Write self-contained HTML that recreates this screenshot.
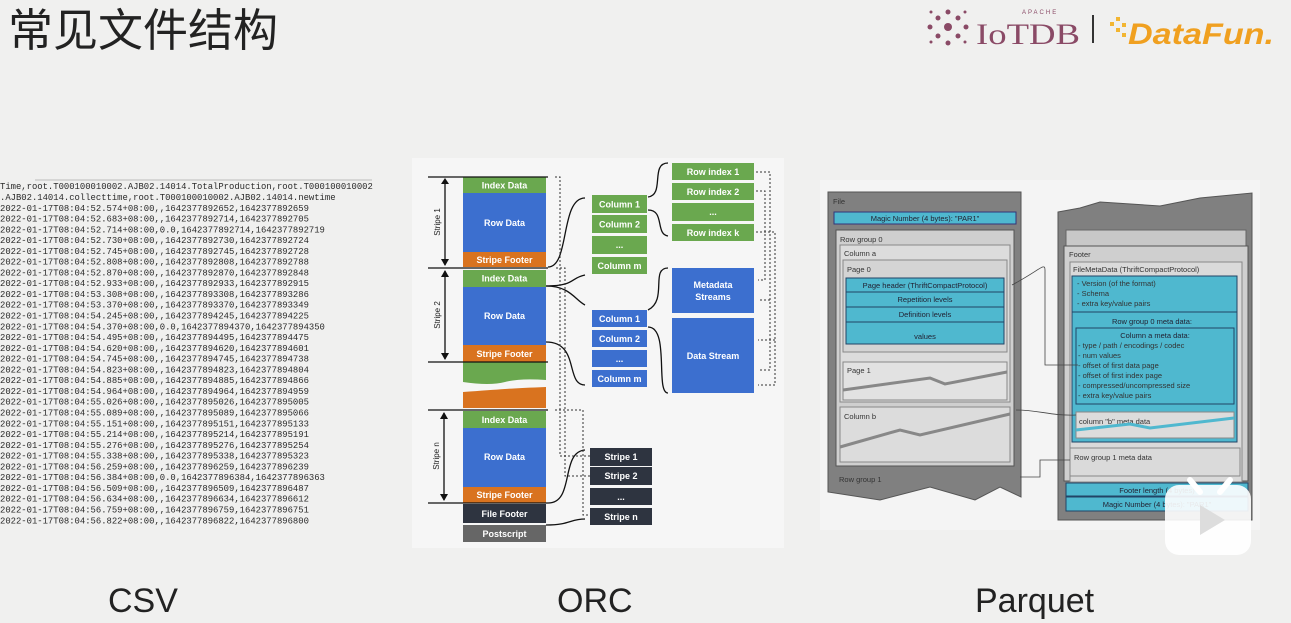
<!DOCTYPE html>
<html><head><meta charset="utf-8"><style>
html,body{margin:0;padding:0;background:#f0f0ef;}
svg{display:block}
.m{font-family:"Liberation Mono",monospace;font-size:8.9px;fill:#2a2a2a}
.o{font-family:"Liberation Sans",sans-serif;font-weight:bold;font-size:9px;fill:#fff;text-anchor:middle}
.p{font-family:"Liberation Sans",sans-serif;font-size:7.5px;fill:#333}
.pc{font-family:"Liberation Sans",sans-serif;font-size:7.5px;fill:#223;text-anchor:middle}
</style></head><body>
<svg width="1291" height="623" viewBox="0 0 1291 623" xmlns="http://www.w3.org/2000/svg">
<rect width="1291" height="623" fill="#f0f0ef"/>
<text x="8" y="46" font-family="'Liberation Sans','Noto Sans CJK SC',sans-serif" font-size="45" fill="#222">常见文件结构</text>
<!-- logos -->
<g fill="#8a4a66">
<circle cx="948" cy="27" r="4"/><circle cx="938" cy="18" r="2.5"/><circle cx="958" cy="18" r="2.5"/><circle cx="938" cy="36" r="2.5"/><circle cx="958" cy="36" r="2.5"/><circle cx="930" cy="27" r="2.5"/><circle cx="966" cy="27" r="2.5"/><circle cx="948" cy="12" r="2.5"/><circle cx="948" cy="43" r="2.5"/><circle cx="931" cy="12" r="1.5"/><circle cx="965" cy="12" r="1.5"/><circle cx="931" cy="42" r="1.5"/><circle cx="965" cy="42" r="1.5"/>
</g>
<text x="976" y="44" font-family="'Liberation Serif',serif" font-size="30" fill="#8a4a66" textLength="104" lengthAdjust="spacingAndGlyphs">IoTDB</text>
<text x="1022" y="14" font-family="'Liberation Sans',sans-serif" font-size="6" fill="#8a4a66" letter-spacing="2">APACHE</text>
<rect x="1092" y="15" width="2" height="28" fill="#333"/>
<g fill="#f2b531"><rect x="1110" y="22" width="4" height="4"/><rect x="1116" y="17" width="4" height="4"/><rect x="1116" y="28" width="4" height="4"/><rect x="1122" y="23" width="4" height="4"/><rect x="1122" y="33" width="4" height="4"/></g>
<text x="1128" y="44" font-family="'Liberation Sans',sans-serif" font-style="italic" font-weight="bold" font-size="30" fill="#f0a020" textLength="146" lengthAdjust="spacingAndGlyphs">DataFun.</text>

<!-- CSV -->
<g class="m">
<line x1="35" y1="180" x2="372" y2="180" stroke="#bbb"/>
<text x="0" y="189">Time,root.T000100010002.AJB02.14014.TotalProduction,root.T000100010002</text>
<text x="0" y="200">.AJB02.14014.collecttime,root.T000100010002.AJB02.14014.newtime</text>
<text x="0" y="211">2022-01-17T08:04:52.574+08:00,,1642377892652,1642377892659</text>
<text x="0" y="221.5">2022-01-17T08:04:52.683+08:00,,1642377892714,1642377892705</text>
<text x="0" y="232.3">2022-01-17T08:04:52.714+08:00,0.0,1642377892714,1642377892719</text>
<text x="0" y="243">2022-01-17T08:04:52.730+08:00,,1642377892730,1642377892724</text>
<text x="0" y="253.8">2022-01-17T08:04:52.745+08:00,,1642377892745,1642377892728</text>
<text x="0" y="264.6">2022-01-17T08:04:52.808+08:00,,1642377892808,1642377892788</text>
<text x="0" y="275.4">2022-01-17T08:04:52.870+08:00,,1642377892870,1642377892848</text>
<text x="0" y="286.2">2022-01-17T08:04:52.933+08:00,,1642377892933,1642377892915</text>
<text x="0" y="297">2022-01-17T08:04:53.308+08:00,,1642377893308,1642377893286</text>
<text x="0" y="307.7">2022-01-17T08:04:53.370+08:00,,1642377893370,1642377893349</text>
<text x="0" y="318.5">2022-01-17T08:04:54.245+08:00,,1642377894245,1642377894225</text>
<text x="0" y="329.3">2022-01-17T08:04:54.370+08:00,0.0,1642377894370,1642377894350</text>
<text x="0" y="340">2022-01-17T08:04:54.495+08:00,,1642377894495,1642377894475</text>
<text x="0" y="350.8">2022-01-17T08:04:54.620+08:00,,1642377894620,1642377894601</text>
<text x="0" y="361.6">2022-01-17T08:04:54.745+08:00,,1642377894745,1642377894738</text>
<text x="0" y="372.4">2022-01-17T08:04:54.823+08:00,,1642377894823,1642377894804</text>
<text x="0" y="383.2">2022-01-17T08:04:54.885+08:00,,1642377894885,1642377894866</text>
<text x="0" y="394">2022-01-17T08:04:54.964+08:00,,1642377894964,1642377894959</text>
<text x="0" y="404.7">2022-01-17T08:04:55.026+08:00,,1642377895026,1642377895005</text>
<text x="0" y="415.5">2022-01-17T08:04:55.089+08:00,,1642377895089,1642377895066</text>
<text x="0" y="426.3">2022-01-17T08:04:55.151+08:00,,1642377895151,1642377895133</text>
<text x="0" y="437">2022-01-17T08:04:55.214+08:00,,1642377895214,1642377895191</text>
<text x="0" y="447.8">2022-01-17T08:04:55.276+08:00,,1642377895276,1642377895254</text>
<text x="0" y="458.6">2022-01-17T08:04:55.338+08:00,,1642377895338,1642377895323</text>
<text x="0" y="469.4">2022-01-17T08:04:56.259+08:00,,1642377896259,1642377896239</text>
<text x="0" y="480.2">2022-01-17T08:04:56.384+08:00,0.0,1642377896384,1642377896363</text>
<text x="0" y="491">2022-01-17T08:04:56.509+08:00,,1642377896509,1642377896487</text>
<text x="0" y="501.7">2022-01-17T08:04:56.634+08:00,,1642377896634,1642377896612</text>
<text x="0" y="512.5">2022-01-17T08:04:56.759+08:00,,1642377896759,1642377896751</text>
<text x="0" y="523.3">2022-01-17T08:04:56.822+08:00,,1642377896822,1642377896800</text>
</g>

<!-- ORC -->
<rect x="412" y="158" width="372" height="390" fill="#f6f6f6"/>
<g>
<rect x="463" y="177" width="83" height="16" fill="#6aa84f"/><text class="o" x="504.5" y="188.5">Index Data</text>
<rect x="463" y="193" width="83" height="59" fill="#3c6fcf"/><text class="o" x="504.5" y="226">Row Data</text>
<rect x="463" y="252" width="83" height="15" fill="#d9731f"/><text class="o" x="504.5" y="263">Stripe Footer</text>
<rect x="463" y="270" width="83" height="17" fill="#6aa84f"/><text class="o" x="504.5" y="281.5">Index Data</text>
<rect x="463" y="287" width="83" height="58" fill="#3c6fcf"/><text class="o" x="504.5" y="319">Row Data</text>
<rect x="463" y="345" width="83" height="17" fill="#d9731f"/><text class="o" x="504.5" y="357">Stripe Footer</text>
<path d="M463 362H546V380Q520 378 505 382T463 382Z" fill="#6aa84f"/>
<path d="M463 392Q490 390 505 389T546 387V408H463Z" fill="#d9731f"/>
<rect x="463" y="411" width="83" height="17" fill="#6aa84f"/><text class="o" x="504.5" y="423">Index Data</text>
<rect x="463" y="428" width="83" height="59" fill="#3c6fcf"/><text class="o" x="504.5" y="460">Row Data</text>
<rect x="463" y="487" width="83" height="16" fill="#d9731f"/><text class="o" x="504.5" y="498">Stripe Footer</text>
<rect x="463" y="504" width="83" height="19" fill="#2e3440"/><text class="o" x="504.5" y="517">File Footer</text>
<rect x="463" y="525" width="83" height="17" fill="#666"/><text class="o" x="504.5" y="537">Postscript</text>
</g>
<g stroke="#111" stroke-width="1.3">
<line x1="428" y1="177" x2="548" y2="177"/><line x1="428" y1="268" x2="548" y2="268"/><line x1="428" y1="362" x2="548" y2="362"/>
<line x1="428" y1="410" x2="548" y2="410"/><line x1="428" y1="503" x2="548" y2="503"/>
<line x1="445" y1="180" x2="445" y2="265"/><line x1="445" y1="271" x2="445" y2="359"/><line x1="444" y1="413" x2="444" y2="500"/>
</g>
<g fill="#111"><path d="M441 184L445 178 449 184Z"/><path d="M441 259L445 266 449 259Z"/><path d="M441 277L445 270 449 277Z"/><path d="M441 353L445 360 449 353Z"/><path d="M440 419L444 412 448 419Z"/><path d="M440 494L444 501 448 494Z"/></g>
<g font-family="Liberation Sans,sans-serif" font-size="8" fill="#222" text-anchor="middle">
<text transform="translate(440 222) rotate(-90)">Stripe 1</text>
<text transform="translate(440 315) rotate(-90)">Stripe 2</text>
<text transform="translate(439 456) rotate(-90)">Stripe n</text>
</g>
<g>
<rect x="592" y="195" width="55" height="18" fill="#6aa84f"/><text class="o" x="619.5" y="207.5">Column 1</text>
<rect x="592" y="215" width="55" height="18" fill="#6aa84f"/><text class="o" x="619.5" y="227.5">Column 2</text>
<rect x="592" y="236" width="55" height="18" fill="#6aa84f"/><text class="o" x="619.5" y="248">...</text>
<rect x="592" y="257" width="55" height="17" fill="#6aa84f"/><text class="o" x="619.5" y="269">Column m</text>
<rect x="592" y="310" width="55" height="17" fill="#3c6fcf"/><text class="o" x="619.5" y="322">Column 1</text>
<rect x="592" y="330" width="55" height="17" fill="#3c6fcf"/><text class="o" x="619.5" y="342">Column 2</text>
<rect x="592" y="350" width="55" height="17" fill="#3c6fcf"/><text class="o" x="619.5" y="362">...</text>
<rect x="592" y="370" width="55" height="17" fill="#3c6fcf"/><text class="o" x="619.5" y="382">Column m</text>
<rect x="672" y="163" width="82" height="17" fill="#6aa84f"/><text class="o" x="713" y="175">Row index 1</text>
<rect x="672" y="183" width="82" height="17" fill="#6aa84f"/><text class="o" x="713" y="195">Row index 2</text>
<rect x="672" y="203" width="82" height="18" fill="#6aa84f"/><text class="o" x="713" y="215">...</text>
<rect x="672" y="224" width="82" height="17" fill="#6aa84f"/><text class="o" x="713" y="236">Row index k</text>
<rect x="672" y="268" width="82" height="45" fill="#3c6fcf"/><text class="o" x="713" y="288">Metadata</text><text class="o" x="713" y="300">Streams</text>
<rect x="672" y="318" width="82" height="75" fill="#3c6fcf"/><text class="o" x="713" y="359">Data Stream</text>
<rect x="590" y="448" width="62" height="18" fill="#2e3440"/><text class="o" x="621" y="460">Stripe 1</text>
<rect x="590" y="467" width="62" height="18" fill="#2e3440"/><text class="o" x="621" y="479">Stripe 2</text>
<rect x="590" y="488" width="62" height="17" fill="#2e3440"/><text class="o" x="621" y="500">...</text>
<rect x="590" y="508" width="62" height="17" fill="#2e3440"/><text class="o" x="621" y="520">Stripe n</text>
</g>
<g fill="none" stroke="#111" stroke-width="1.3">
<path d="M548 267C570 267 560 198 585 198"/>
<path d="M546 286C575 286 570 278 585 275"/>
<path d="M546 286C570 286 575 300 585 305"/>
<path d="M546 342C580 342 565 385 585 385"/>
<path d="M648 197C665 195 650 163 668 163"/>
<path d="M648 210C665 210 655 234 668 236"/>
<path d="M648 310C668 300 650 268 668 268"/>
<path d="M648 327C670 327 655 393 668 393"/>
<path d="M548 503C575 503 560 452 585 450"/>
<path d="M546 525C570 525 570 519 585 519"/>
</g>
<g fill="none" stroke="#333" stroke-width="1" stroke-dasharray="2,2">
<path d="M555 177H560V456H590"/><path d="M556 268H565V476H590"/><path d="M555 410H583V515H590"/>
<path d="M756 172H770V370H758"/><path d="M756 191H765V280H758"/><path d="M756 232H775V385H758"/>
<path d="M770 300H758"/><path d="M775 340H758"/>
</g>
<!-- Parquet -->
<rect x="820" y="180" width="440" height="350" fill="#f4f4f4"/>
<path d="M828 192H1021V497L1000 487 975 500 930 487 880 500 828 492Z" fill="#808080" stroke="#555"/>
<text class="p" x="833" y="204">File</text>
<rect x="834" y="212" width="182" height="12" fill="#4fb8cf" stroke="#337"/><text class="pc" x="925" y="221">Magic Number (4 bytes): "PAR1"</text>
<rect x="836" y="230" width="178" height="236" fill="#cfcfcf" stroke="#555"/>
<text class="p" x="840" y="242">Row group 0</text>
<rect x="840" y="245" width="170" height="157" fill="#dcdcdc" stroke="#888"/><text class="p" x="844" y="256">Column a</text>
<rect x="843" y="260" width="164" height="92" fill="#d4d4d4" stroke="#888"/><text class="p" x="847" y="272">Page 0</text>
<rect x="846" y="278" width="158" height="14" fill="#4fb8cf" stroke="#246"/><text class="pc" x="925" y="288">Page header (ThriftCompactProtocol)</text>
<rect x="846" y="292" width="158" height="15" fill="#4fb8cf" stroke="#246"/><text class="pc" x="925" y="302">Repetition levels</text>
<rect x="846" y="307" width="158" height="15" fill="#4fb8cf" stroke="#246"/><text class="pc" x="925" y="317">Definition levels</text>
<rect x="846" y="322" width="158" height="22" fill="#4fb8cf" stroke="#246"/><text class="pc" x="925" y="339">values</text>
<rect x="843" y="362" width="164" height="38" fill="#e2e2e2" stroke="#888"/><text class="p" x="847" y="373">Page 1</text>
<path d="M843 390L930 378 945 384 1007 372" fill="none" stroke="#888" stroke-width="3"/>
<rect x="840" y="407" width="170" height="55" fill="#dcdcdc" stroke="#888"/><text class="p" x="844" y="419">Column b</text>
<path d="M840 447L900 430 920 435 1010 414" fill="none" stroke="#888" stroke-width="3"/>
<text class="p" x="839" y="482">Row group 1</text>
<path d="M1058 212L1080 208 1100 202 1160 206 1200 198 1252 193V520H1058Z" fill="#808080" stroke="#555"/>
<rect x="1066" y="230" width="180" height="20" fill="#c8c8c8" stroke="#666"/>
<rect x="1064" y="246" width="184" height="235" fill="#cfcfcf" stroke="#555"/>
<text class="p" x="1069" y="257">Footer</text>
<rect x="1070" y="262" width="172" height="220" fill="#dadada" stroke="#888"/>
<text class="p" x="1073" y="272">FileMetaData (ThriftCompactProtocol)</text>
<rect x="1072" y="276" width="165" height="166" fill="#4fb8cf" stroke="#246"/>
<text class="p" x="1077" y="286">- Version (of the format)</text>
<text class="p" x="1077" y="296">- Schema</text>
<text class="p" x="1077" y="306">- extra key/value pairs</text>
<line x1="1072" y1="312" x2="1237" y2="312" stroke="#246"/>
<text class="pc" x="1152" y="324">Row group 0 meta data:</text>
<rect x="1076" y="328" width="158" height="76" fill="#4fb8cf" stroke="#246"/>
<text class="pc" x="1155" y="338">Column a meta data:</text>
<text class="p" x="1078" y="348">- type / path / encodings / codec</text>
<text class="p" x="1078" y="358">- num values</text>
<text class="p" x="1078" y="368">- offset of first data page</text>
<text class="p" x="1078" y="378">- offset of first index page</text>
<text class="p" x="1078" y="388">- compressed/uncompressed size</text>
<text class="p" x="1078" y="398">- extra key/value pairs</text>
<rect x="1076" y="412" width="158" height="26" fill="#dcdcdc" stroke="#888"/>
<text class="p" x="1079" y="424">column "b" meta data</text>
<path d="M1076 430L1130 424 1150 428 1234 418" fill="none" stroke="#4fb8cf" stroke-width="3"/>
<rect x="1070" y="448" width="170" height="28" fill="#dadada" stroke="#888"/>
<text class="p" x="1074" y="460">Row group 1 meta data</text>
<rect x="1066" y="483" width="182" height="13" fill="#4fb8cf" stroke="#246"/><text class="pc" x="1157" y="493">Footer length (4 bytes)</text>
<rect x="1066" y="497" width="182" height="14" fill="#4fb8cf" stroke="#246"/><text class="pc" x="1157" y="507">Magic Number (4 bytes): "PAR1"</text>
<g fill="none" stroke="#444" stroke-width="0.8">
<path d="M1012 285C1040 270 1045 262 1045 270V365H1078"/>
<path d="M1016 410C1040 410 1050 416 1076 415"/>
<path d="M1020 477H1040V460H1070"/>
</g>
<rect x="1165" y="485" width="86" height="70" rx="14" fill="#fff" opacity="0.9"/>
<path d="M1190 480L1200 492M1230 480L1220 492" stroke="#fff" stroke-width="6" stroke-linecap="round"/>
<path d="M1200 505L1225 520 1200 535Z" fill="#ddd"/>
<g font-family="Liberation Sans,sans-serif" font-size="34" fill="#222">
<text x="108" y="612">CSV</text>
<text x="557" y="612">ORC</text>
<text x="975" y="612">Parquet</text>
</g>
</svg>
</body></html>
